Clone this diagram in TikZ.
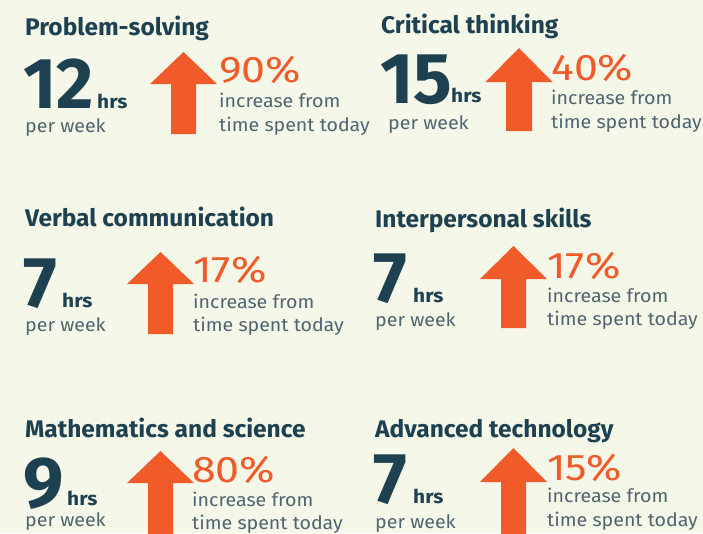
\documentclass[tikz,border=0pt]{standalone}
\usepackage{fontspec}
\setmainfont{Fira Sans}
\newfontfamily\ttlfont[FakeStretch=1.02]{Fira Sans}
\newfontfamily\hrsfont[FakeStretch=1.1]{Fira Sans}
\newfontfamily\subfont[FakeStretch=1.06]{Fira Sans}
\newfontfamily\pctfont[FakeStretch=1.16]{Fira Sans}
\definecolor{bg}{HTML}{F5F7E9}
\definecolor{dark}{HTML}{1E4151}
\definecolor{orng}{HTML}{F15A29}
\definecolor{gry}{HTML}{4F6571}
\tikzset{
  txt/.style={anchor=base west, inner sep=0pt},
  ttl/.style={txt, text=dark, text depth=0pt, font=\ttlfont\fontsize{24}{24}\selectfont\bfseries},
  big/.style={txt, text=dark, text depth=0pt, text height=50pt, font=\fontsize{72}{72}\selectfont\bfseries},
  hrs/.style={txt, text=dark, text depth=0pt, font=\hrsfont\fontsize{19}{19}\selectfont\bfseries},
  sub/.style={txt, text=gry, text depth=0pt, text height=10pt, font=\subfont\fontsize{18.5}{18.5}\selectfont},
  pct/.style={txt, text=orng, text depth=0pt, font=\pctfont\fontsize{37}{37}\selectfont},
  uparrow/.style={fill=orng}
}
\newcommand{\uparr}[6]{% tipx tipy halfhead headbase halfshaft bottom
  \fill[uparrow] (#1,#2) -- (#1+#3,#4) -- (#1+#5,#4) -- (#1+#5,#6) -- (#1-#5,#6) -- (#1-#5,#4) -- (#1-#3,#4) -- cycle;}
\begin{document}
\begin{tikzpicture}[x=1pt,y=-1pt]
\fill[bg] (0,0) rectangle (703,533);
\useasboundingbox (0,0) rectangle (703,533);
% Panel 1
\node[ttl] (t1) at (25,35) {Problem-solving};
\node[big] (n1) at (23,108) {12};
\node[hrs] (h1) at (97,108) {hrs};
\node[sub] (p1) at (25,132) {per week};
\uparr{183.5}{52}{33.5}{84}{12.5}{134}
\node[pct] (c1) at (219,82) {90\%};
\node[sub] (i1) at (219,107) {increase from};
\node[sub] (s1) at (219,131) {time spent today};
% Panel 2
\node[ttl] (t2) at (381,33) {Critical thinking};
\node[big] (n2) at (380,103) {15};
\node[hrs] (h2) at (451,102) {hrs};
\node[sub] (p2) at (388,129) {per week};
\uparr{519}{48}{33.5}{82}{13}{131}
\node[pct] (c2) at (551,80) {40\%};
\node[sub] (i2) at (551,104) {increase from};
\node[sub] (s2) at (551,128) {time spent today};
% Panel 3
\node[ttl] (t3) at (25,226) {Verbal communication};
\node[big] (n3) at (23,307) {7};
\node[hrs] (h3) at (62,307) {hrs};
\node[sub] (p3) at (25,331) {per week};
\uparr{160.5}{252}{33.5}{284}{12.5}{334}
\node[pct] (c3) at (193,282) {17\%};
\node[sub] (i3) at (193,308) {increase from};
\node[sub] (s3) at (193,331) {time spent today};
% Panel 4
\node[ttl] (t4) at (375,227) {Interpersonal skills};
\node[big] (n4) at (373,302) {7};
\node[hrs] (h4) at (413,302) {hrs};
\node[sub] (p4) at (375,326) {per week};
\uparr{513.5}{246}{33.5}{279}{12.5}{328}
\node[pct] (c4) at (547,278) {17\%};
\node[sub] (i4) at (547,302) {increase from};
\node[sub] (s4) at (547,325) {time spent today};
% Panel 5
\node[ttl] (t5) at (25,437) {Mathematics and science};
\node[big] (n5) at (23,507) {9};
\node[hrs] (h5) at (67,505) {hrs};
\node[sub] (p5) at (25,526) {per week};
\uparr{160.5}{451}{33.5}{483}{12.5}{540}
\node[pct] (c5) at (192,482) {80\%};
\node[sub] (i5) at (192,506) {increase from};
\node[sub] (s5) at (192,529) {time spent today};
% Panel 6
\node[ttl] (t6) at (375,437) {Advanced technology};
\node[big] (n6) at (373,503) {7};
\node[hrs] (h6) at (413,503) {hrs};
\node[sub] (p6) at (375,528) {per week};
\uparr{513.5}{448}{33.5}{482}{12.5}{540}
\node[pct] (c6) at (547,480) {15\%};
\node[sub] (i6) at (547,502) {increase from};
\node[sub] (s6) at (547,526) {time spent today};
\end{tikzpicture}
\end{document}
